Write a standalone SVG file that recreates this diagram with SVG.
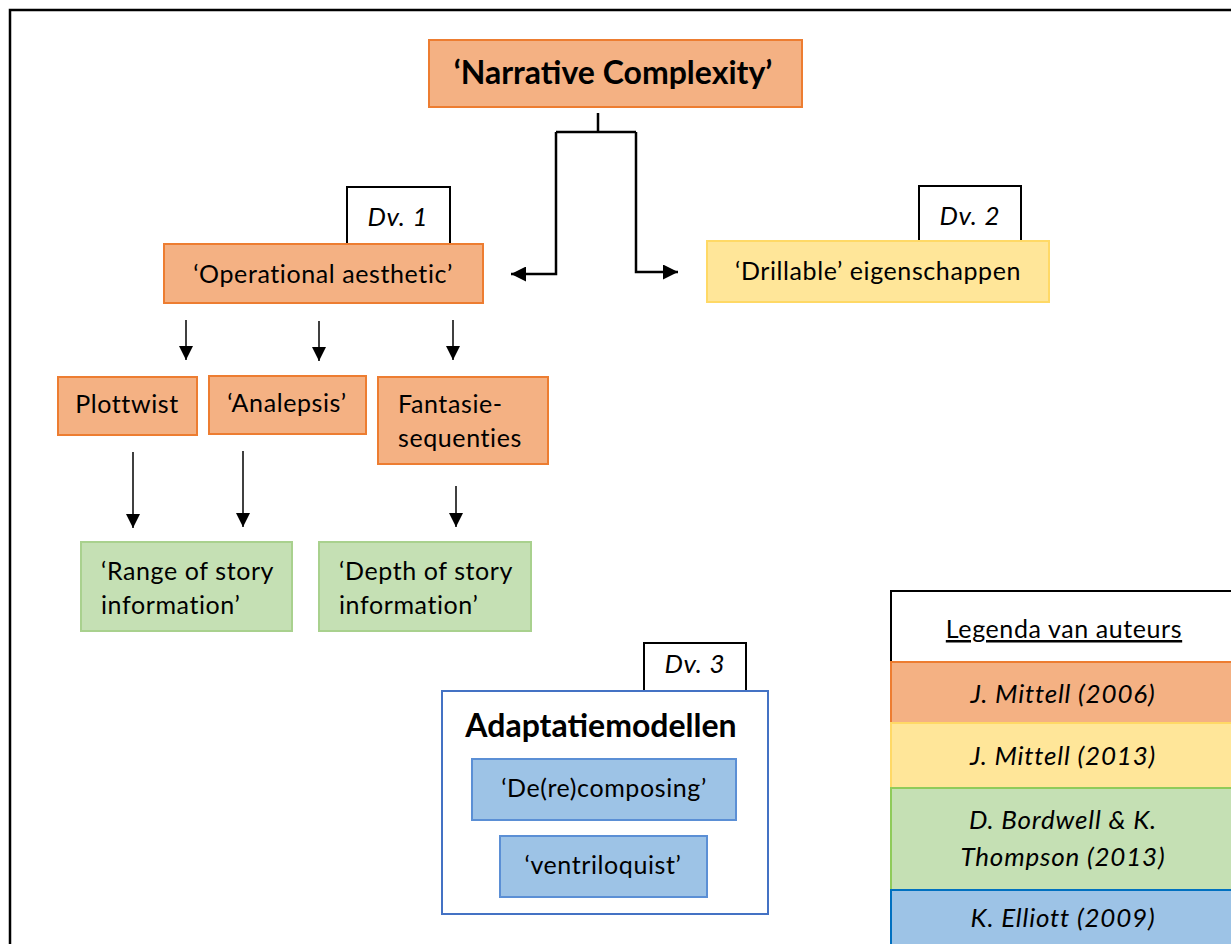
<svg xmlns="http://www.w3.org/2000/svg" width="1231" height="944" viewBox="0 0 1231 944">
<defs>
<marker id="ah" viewBox="0 0 10 10" refX="10" refY="5" markerWidth="14" markerHeight="14" markerUnits="userSpaceOnUse" orient="auto">
<path d="M0,0 L10,5 L0,10 Z" fill="#000"/>
</marker>
<marker id="ah2" viewBox="0 0 10 10" refX="10" refY="5" markerWidth="15" markerHeight="15" markerUnits="userSpaceOnUse" orient="auto">
<path d="M0,0 L10,5 L0,10 Z" fill="#000"/>
</marker>
</defs>
<style>
text{font-family:Lato,"Liberation Sans",sans-serif;fill:#000;}
.t{font-size:25px;letter-spacing:0.6px;}
.c{text-anchor:middle;}
.b{font-weight:bold;font-size:32px;}
.i{font-style:italic;font-size:26px;letter-spacing:0.8px;}
.or{fill:#F4B183;stroke:#ED7D31;stroke-width:2;}
.ye{fill:#FFE699;stroke:#FFD966;stroke-width:2;}
.gr{fill:#C5E0B4;stroke:#A9D18E;stroke-width:2;}
.bl{fill:#9DC3E6;stroke:#5B8FD5;stroke-width:2;}
.wb{fill:#fff;stroke:#000;stroke-width:2;}
.line{fill:none;stroke:#000;}
</style>
<rect width="1231" height="944" fill="#fff"/>
<rect x="10" y="10" width="1240" height="950" fill="none" stroke="#000" stroke-width="2.5"/>

<g id="connectors">
<path class="line" stroke-width="2.5" d="M598,113 V132 M556,132 H636"/>
<path class="line" stroke-width="2.5" d="M556,132 V274 H511" marker-end="url(#ah2)"/>
<path class="line" stroke-width="2.5" d="M636,132 V272 H678" marker-end="url(#ah2)"/>
<line class="line" stroke-width="1.5" x1="186" y1="320" x2="186" y2="360" marker-end="url(#ah)"/>
<line class="line" stroke-width="1.5" x1="319" y1="321" x2="319" y2="361" marker-end="url(#ah)"/>
<line class="line" stroke-width="1.5" x1="453" y1="320" x2="453" y2="360" marker-end="url(#ah)"/>
<line class="line" stroke-width="1.5" x1="133" y1="452" x2="133" y2="528" marker-end="url(#ah)"/>
<line class="line" stroke-width="1.5" x1="243" y1="451" x2="243" y2="527" marker-end="url(#ah)"/>
<line class="line" stroke-width="1.5" x1="456" y1="486" x2="456" y2="527" marker-end="url(#ah)"/>
</g>

<g id="narrative-complexity">
<rect class="or" x="429" y="40" width="373" height="67"/>
<text class="b c" x="613" y="84">‘Narrative Complexity’</text>
</g>

<g id="dv1">
<rect class="wb" x="347" y="187" width="103" height="58"/>
<text class="i c" x="398" y="226">Dv. 1</text>
</g>
<g id="operational-aesthetic">
<rect class="or" x="164" y="244" width="319" height="59"/>
<text class="t c" x="323" y="283">‘Operational aesthetic’</text>
</g>

<g id="dv2">
<rect class="wb" x="919" y="186" width="102" height="56"/>
<text class="i c" x="970" y="225">Dv. 2</text>
</g>
<g id="drillable">
<rect class="ye" x="707" y="241" width="342" height="61"/>
<text class="t c" x="878" y="280">‘Drillable’ eigenschappen</text>
</g>

<g id="plottwist">
<rect class="or" x="58" y="377" width="139" height="58"/>
<text class="t c" x="127" y="413">Plottwist</text>
</g>
<g id="analepsis">
<rect class="or" x="209" y="376" width="157" height="58"/>
<text class="t c" x="287" y="412">‘Analepsis’</text>
</g>
<g id="fantasie">
<rect class="or" x="378" y="377" width="170" height="87"/>
<text class="t" x="398" y="413">Fantasie-</text>
<text class="t" x="398" y="447">sequenties</text>
</g>

<g id="range">
<rect class="gr" x="81" y="542" width="211" height="89"/>
<text class="t" x="101" y="580">‘Range of story</text>
<text class="t" x="101" y="614">information’</text>
</g>
<g id="depth">
<rect class="gr" x="319" y="542" width="212" height="89"/>
<text class="t" x="339" y="580">‘Depth of story</text>
<text class="t" x="339" y="614">information’</text>
</g>

<g id="dv3">
<rect class="wb" x="644" y="643" width="102" height="49"/>
<text class="i c" x="695" y="673">Dv. 3</text>
</g>
<g id="adaptatiemodellen">
<rect x="442" y="691" width="326" height="223" fill="#fff" stroke="#4472C4" stroke-width="2"/>
<text class="b c" x="601" y="737">Adaptatiemodellen</text>
<rect class="bl" x="472" y="759" width="264" height="61"/>
<text class="t c" x="604" y="797">‘De(re)composing’</text>
<rect class="bl" x="500" y="836" width="207" height="61"/>
<text class="t c" x="603" y="874">‘ventriloquist’</text>
</g>

<g id="legend">
<rect class="wb" x="891" y="591" width="360" height="71"/>
<text class="t c" x="1064" y="638" text-decoration="underline">Legenda van auteurs</text>
<rect x="891" y="662" width="360" height="61" fill="#F4B183" stroke="#ED7D31" stroke-width="2"/>
<text class="i c" x="1063" y="703">J. Mittell (2006)</text>
<rect x="891" y="723" width="360" height="65" fill="#FFE699" stroke="#FFD966" stroke-width="2"/>
<text class="i c" x="1063" y="765">J. Mittell (2013)</text>
<rect x="891" y="788" width="360" height="102" fill="#C5E0B4" stroke="#8FCB5A" stroke-width="2"/>
<text class="i c" x="1063" y="829">D. Bordwell &amp; K.</text>
<text class="i c" x="1063" y="866">Thompson (2013)</text>
<rect x="891" y="890" width="360" height="70" fill="#9DC3E6" stroke="#0070C0" stroke-width="2"/>
<text class="i c" x="1063" y="927">K. Elliott (2009)</text>
</g>
</svg>
